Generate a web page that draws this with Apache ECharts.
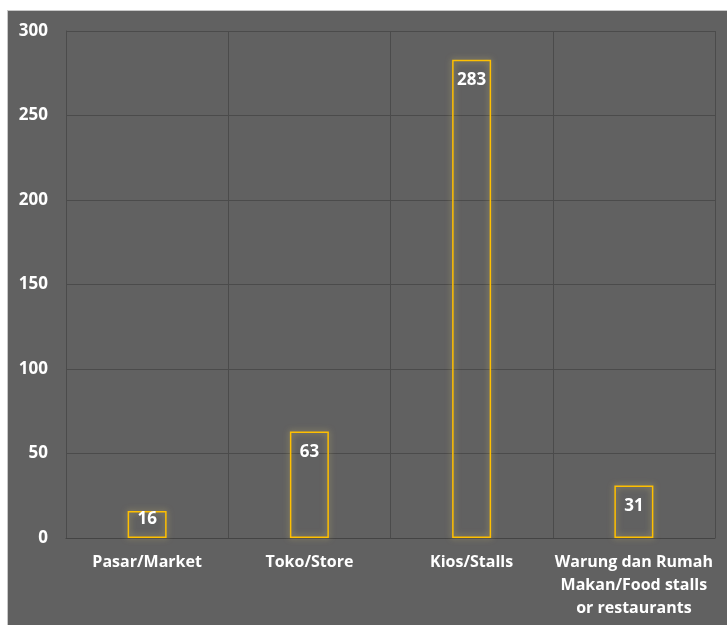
<!DOCTYPE html>
<html>
<head>
<meta charset="utf-8">
<script src="https://cdn.jsdelivr.net/npm/echarts@6/dist/echarts.min.js"></script>
<style>
    html, body { margin: 0; padding: 0; background: #ffffff; }
    #chart { position: absolute; left: 7px; top: 10px; width: 720px; height: 615px; background: #616161; border-left: 1px solid #c8c8c8; border-top: 1px solid #c8c8c8; box-sizing: border-box; }
</style>
</head>
<body>
<div id="chart"></div>
<script>
    var categories = ['Pasar/Market', 'Toko/Store', 'Kios/Stalls', 'Warung dan Rumah\nMakan/Food stalls\nor restaurants'];
    var counts     = [16, 63, 283, 31];
    var yTicks     = [0, 50, 100, 150, 200, 250, 300];

    var myChart = echarts.init(document.getElementById('chart'));

    // short bars get their label pushed up to the top edge
    var barData = counts.map(function (v) {
        return v < 20 ? {value: v, label: {distance: 0}} : v;
    });

    var option = {
        backgroundColor: 'transparent',
        textStyle: {fontFamily: 'Open Sans'},
        grid: {left: 58, right: 12, top: 20, bottom: 87, containLabel: false},
        xAxis: {
            type     : 'category',
            data     : categories,
            axisLine : {show: true, lineStyle: {color: '#444444', width: 1}},
            axisTick : {show: false},
            splitLine: {show: true, lineStyle: {color: '#4b4b4b', width: 1}},
            axisLabel: {
                color     : '#ffffff',
                fontWeight: 'bold',
                fontSize  : 16,
                lineHeight: 23,
                margin    : 13,
                interval  : 0
            }
        },
        yAxis: {
            type     : 'value',
            min      : yTicks[0],
            max      : yTicks[yTicks.length - 1],
            interval : 50,
            axisLine : {show: true, lineStyle: {color: '#4b4b4b'}},
            axisTick : {show: false},
            splitLine: {show: true, lineStyle: {color: '#4b4b4b', width: 1}},
            axisLabel: {
                color     : '#ffffff',
                fontWeight: 'bold',
                fontSize  : 17,
                margin    : 18
            }
        },
        series: [
            {
                type     : 'bar',
                data     : barData,
                barWidth : 39,
                itemStyle: {
                    color        : 'rgba(0,0,0,0)',
                    borderColor  : '#ffc000',
                    borderWidth  : 1.5,
                    shadowColor  : 'rgba(255,230,120,0.55)',
                    shadowBlur   : 6
                },
                label: {
                    show      : true,
                    position  : 'insideTop',
                    distance  : 12,
                    color     : '#ffffff',
                    fontWeight: 'bold',
                    fontSize  : 17
                }
            }
        ]
    };

    myChart.setOption(option);
</script>
</body>
</html>
